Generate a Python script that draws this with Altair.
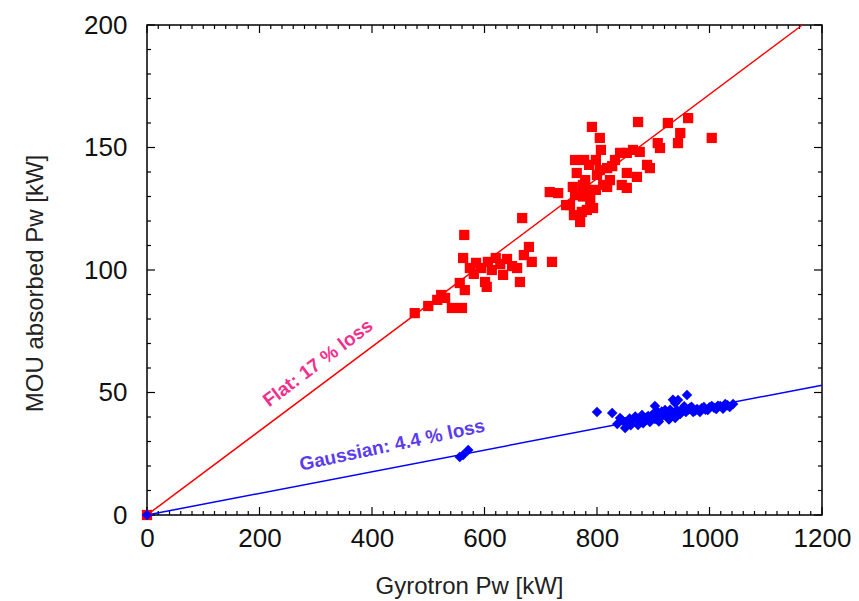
import altair as alt
import pandas as pd

# Measured absorbed power in the MOU vs. gyrotron output power
flat_pw = [0, 476, 500, 516, 523, 530, 542, 556, 560, 562, 564, 565, 574, 581, 585,
           594, 601, 604, 606, 613, 620, 628, 633, 640, 649, 658, 663, 667, 670,
           679, 684, 720,
           716, 731, 745, 752, 757, 759, 761, 761, 764, 768, 770, 773, 775, 775,
           777, 779, 782, 782, 786, 788, 791, 793, 798, 798, 800, 805, 805, 807,
           811, 818, 818, 823, 827, 832, 841, 844, 853, 853, 853, 864, 871, 873,
           876, 889, 894, 908, 912, 926, 944, 948, 962, 1004]
flat_abs = [0, 82.4, 85.3, 87.8, 89.8, 88.6, 84.5, 94.7, 84.5, 104.9, 114.3, 91.8,
            100.8, 98.4, 102.9, 100.8, 95.1, 93.1, 103.3, 100.0, 104.9, 102.4,
            98.0, 104.5, 101.6, 100.8, 95.1, 121.2, 106.1, 109.4, 103.3, 103.3,
            131.8, 131.4, 126.5, 126.5, 133.9, 122.4, 144.9, 130.6, 139.6, 130.6,
            119.6, 123.7, 134.7, 130.0, 144.9, 136.7, 132.7, 124.5, 142.9, 128.6,
            158.4, 125.3, 144.9, 132.7, 138.8, 153.9, 140.8, 149.0, 134.7, 133.9,
            141.6, 136.7, 142.4, 144.9, 147.8, 134.7, 147.8, 139.6, 133.5, 149.0,
            138.0, 160.4, 148.2, 142.9, 141.6, 151.8, 149.8, 160.0, 151.8, 155.9,
            162.0, 153.9]

gauss_pw = [0, 556, 562, 571, 800, 827, 836, 841, 850, 850, 855, 864, 873, 876,
            885, 891, 894, 900, 903, 903, 908, 912, 917, 921, 926, 933, 935, 939,
            939, 942, 944, 948, 953, 958, 960, 965, 971, 978, 983, 990, 997, 1004,
            1012, 1019, 1028, 1036, 1042,
            845, 858, 868, 880, 888, 897, 906, 915, 923, 930, 937, 950, 955, 962,
            968, 975, 986, 993, 1000, 1008, 1015, 1024, 1032, 860, 882, 910, 928]
gauss_abs = [0, 23.7, 24.5, 26.5, 42.0, 41.6, 37.1, 39.6, 38.0, 35.5, 37.1, 38.8,
             36.7, 39.6, 38.4, 40.4, 38.0, 41.2, 39.2, 44.5, 42.0, 39.6, 40.8,
             42.9, 40.4, 42.0, 47.0, 39.6, 45.7, 42.9, 46.9, 41.2, 43.3, 42.0,
             49.0, 43.7, 42.0, 43.3, 42.0, 44.1, 42.9, 44.5, 43.3, 44.5, 45.3,
             44.1, 45.3,
             38.6, 39.4, 40.2, 40.8, 39.8, 40.6, 41.4, 42.2, 41.6, 43.0, 41.0,
             42.6, 44.4, 43.0, 44.2, 42.6, 43.6, 43.0, 44.0, 43.8, 44.6, 43.4,
             44.8, 36.6, 37.4, 38.2, 39.0]

# Linear loss fits
flat_fit_x = [0, 1165]
flat_fit_y = [0, 200]
gauss_fit_x = [0, 1200]
gauss_fit_y = [0, 53]

# Fit annotations
note_text = ["Flat: 17 % loss", "Gaussian: 4.4 % loss"]
note_x = [304, 436]
note_y = [62, 28.5]
note_angle = [323, 348]
note_color = ["#f2308c", "#5a3cf0"]

# Axis tick positions
x_major = [0, 200, 400, 600, 800, 1000, 1200]
x_minor = [v for v in range(0, 1201, 20) if v % 200 != 0]
y_major = [0, 50, 100, 150, 200]
y_minor = [v for v in range(0, 201, 10) if v % 50 != 0]

W, H = 675, 490
FONT = "Liberation Sans"

xs = alt.Scale(domain=[0, 1200], nice=False, zero=False)
ys = alt.Scale(domain=[0, 200], nice=False, zero=False)
x_axis = alt.Axis(title="Gyrotron Pw [kW]", values=x_major, format="d", grid=False,
                  ticks=False, domain=False, labelFontSize=26, labelPadding=10,
                  titleFontSize=24, titleFontWeight="normal", titlePadding=23,
                  titleX=322, labelColor="#111", titleColor="#222", labelFont=FONT,
                  titleFont=FONT, labelOverlap=False, labelFlush=False)
y_axis = alt.Axis(title="MOU absorbed Pw [kW]", values=y_major, format="d", grid=False,
                  ticks=False, domain=False, labelFontSize=26, labelPadding=20,
                  titleFontSize=24, titleFontWeight="normal", titlePadding=36,
                  titleY=258, labelColor="#111", titleColor="#222", labelFont=FONT,
                  titleFont=FONT, labelOverlap=False)

def X(field):
    return alt.X(field, type="quantitative", scale=xs, axis=x_axis)

def Y(field):
    return alt.Y(field, type="quantitative", scale=ys, axis=y_axis)

flat_df = pd.DataFrame({"pw": flat_pw, "abs": flat_abs})
gauss_df = pd.DataFrame({"pw": gauss_pw, "abs": gauss_abs})
flat_fit = pd.DataFrame({"pw": flat_fit_x, "abs": flat_fit_y})
gauss_fit = pd.DataFrame({"pw": gauss_fit_x, "abs": gauss_fit_y})
notes = pd.DataFrame({"t": note_text, "pw": note_x, "abs": note_y,
                      "ang": note_angle, "c": note_color})

flat_line = alt.Chart(flat_fit).mark_line(color="#ff0000", strokeWidth=1.5).encode(
    x=X("pw"), y=Y("abs"))
gauss_line = alt.Chart(gauss_fit).mark_line(color="#0000ff", strokeWidth=1.5).encode(
    x=X("pw"), y=Y("abs"))

flat_pts = alt.Chart(flat_df).mark_point(shape="square", filled=True, size=105,
                                         color="#ff0000", opacity=1).encode(
    x=X("pw"), y=Y("abs"))
gauss_pts = alt.Chart(gauss_df).mark_point(shape="diamond", filled=True, size=110,
                                           color="#0000ff", opacity=1).encode(
    x=X("pw"), y=Y("abs"))

labels = alt.Chart(notes).mark_text(fontSize=19, fontWeight="bold", font=FONT).encode(
    x=X("pw"), y=Y("abs"), text="t:N",
    angle=alt.Angle("ang:Q", scale=None),
    color=alt.Color("c:N", scale=None))

# Inward-pointing frame ticks on all four sides
def xticks(vals, length):
    d = pd.DataFrame({"v": vals})
    bottom = alt.Chart(d).mark_rule(color="black", strokeWidth=1.2).encode(
        x=X("v"), y=alt.value(H), y2=alt.value(H - length))
    top = alt.Chart(d).mark_rule(color="black", strokeWidth=1.2).encode(
        x=X("v"), y=alt.value(0), y2=alt.value(length))
    return [bottom, top]

def yticks(vals, length):
    d = pd.DataFrame({"v": vals})
    left = alt.Chart(d).mark_rule(color="black", strokeWidth=1.2).encode(
        y=Y("v"), x=alt.value(0), x2=alt.value(length))
    right = alt.Chart(d).mark_rule(color="black", strokeWidth=1.2).encode(
        y=Y("v"), x=alt.value(W), x2=alt.value(W - length))
    return [left, right]

tick_layers = xticks(x_major, 8) + xticks(x_minor, 4) + yticks(y_major, 8) + yticks(y_minor, 4)

chart = alt.layer(
    *tick_layers, flat_line, gauss_line, flat_pts, gauss_pts, labels
).properties(
    width=W, height=H,
    autosize=alt.AutoSizeParams(type="none"),
    padding={"left": 147, "top": 25, "right": 37, "bottom": 86},
    background="white",
).configure_view(stroke="black", strokeWidth=1.5)

chart.save("out.html", embed_options={"renderer": "svg", "actions": False})
